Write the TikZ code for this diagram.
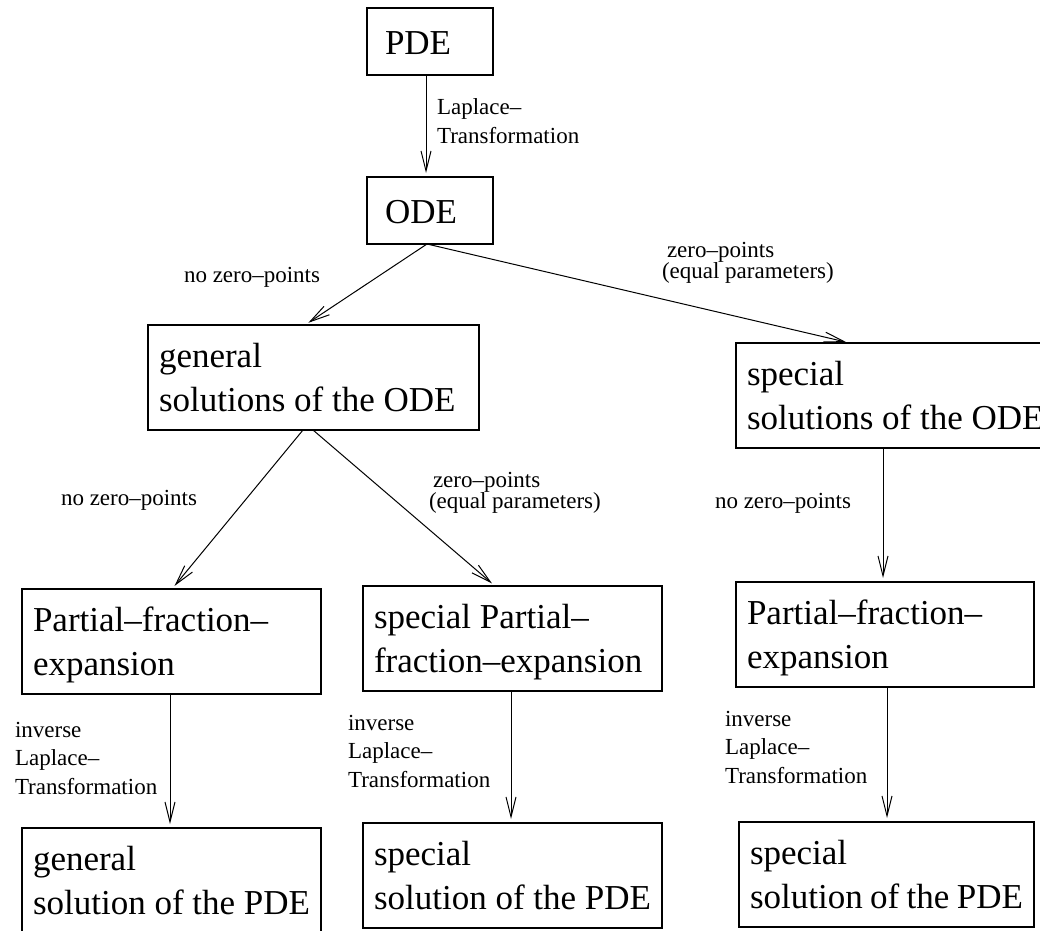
\documentclass[tikz,border=0pt]{standalone}
\usepackage{fontspec}
\setmainfont{Liberation Serif}
\usetikzlibrary{arrows.meta,calc}
\begin{document}
\begin{tikzpicture}[x=1pt,y=-1pt,
  every node/.style={inner sep=0pt, outer sep=0pt},
  box/.style={draw, line width=1.1pt, rectangle, anchor=north west, align=flush left,
    inner ysep=0pt, inner xsep=11pt, font=\fontsize{35}{44}\selectfont,
    minimum height=105pt, text height=24pt, text depth=44pt},
  onebox/.style={box, inner xsep=18pt, minimum height=67pt, text height=26pt, text depth=0pt},
  lab/.style={anchor=base west, align=left, font=\fontsize{23}{28.5}\selectfont},
  labtight/.style={lab, font=\fontsize{23}{21}\selectfont},
  link/.style={line width=1pt, -{Straight Barb[length=20pt,width=10pt,line width=1pt]}, shorten >=4pt}
]
\useasboundingbox (0,0) rectangle (1040,930);
\clip (0,0) rectangle (1040,930);

% boxes
\node[onebox, text width=90pt] (PDE) at (367,8) {PDE};
\node[onebox, text width=90pt] (ODE) at (367,177) {ODE};
\node[box, text width=309pt] (genODE) at (148,325) {general\\solutions~of~the~ODE};
\node[box, text width=309pt] (specODE) at (736,343) {special\\solutions~of~the~ODE};
\node[box, text width=277pt] (partL) at (22,589) {Partial–fraction–\\expansion};
\node[box, text width=277pt] (partM) at (363,586) {special Partial–\\fraction–expansion};
\node[box, text width=276pt] (partR) at (736,582) {Partial–fraction–\\expansion};
\node[box, text width=277pt] (solL) at (22,828) {general\\solution~of~the~PDE};
\node[box, text width=277pt] (solM) at (363,823) {special\\solution~of~the~PDE};
\node[box, text width=273pt] (solR) at (739,822) {special\\solution~of~the~PDE};

% connectors
\draw[link] ($(PDE.south)+(-4,0)$) -- ($(ODE.north)+(-4,0)$);
\draw[link] ($(ODE.south)+(-3,0)$) -- ($(genODE.north)+(-8.5,0)$);
\draw[link] ($(ODE.south)+(-3,0)$) -- ($(specODE.north west)+(114,0)$);
\draw[link] ($(genODE.south)+(-10.5,0)$) -- ($(partL.north)+(0.5,0)$);
\draw[link] ($(genODE.south)+(-0.5,0)$) -- ($(partM.north)+(-17.5,0)$);
\draw[link] ($(specODE.south west)+(147,0)$) -- ($(partR.north)+(-2,0)$);
\draw[link] ($(partL.south)+(-1.5,0)$) -- ($(solL.north)+(-1.5,0)$);
\draw[link] ($(partM.south)+(-1.5,0)$) -- ($(solM.north)+(-1.5,0)$);
\draw[link] ($(partR.south)+(2,0)$) -- ($(solR.north)+(0.5,0)$);

% connector labels (multi-line labels are placed by the baseline of their last line)
\node[lab] (lLap) at (437,143) {Laplace–\\Transformation};
\node[lab] (lNoA) at (184,282) {no zero–points};
\node[labtight] (lZeroA) at (667,278) {zero–points\\\hspace*{-5pt}(equal parameters)};
\node[lab] (lNoB) at (61,505) {no zero–points};
\node[labtight] (lZeroB) at (433,508) {zero–points\\\hspace*{-4pt}(equal parameters)};
\node[lab] (lNoC) at (715,508) {no zero–points};
\node[lab] (lInvL) at (15,794) {inverse\\Laplace–\\Transformation};
\node[lab] (lInvM) at (348,787) {inverse\\Laplace–\\Transformation};
\node[lab] (lInvR) at (725,783) {inverse\\Laplace–\\Transformation};
\end{tikzpicture}
\end{document}
